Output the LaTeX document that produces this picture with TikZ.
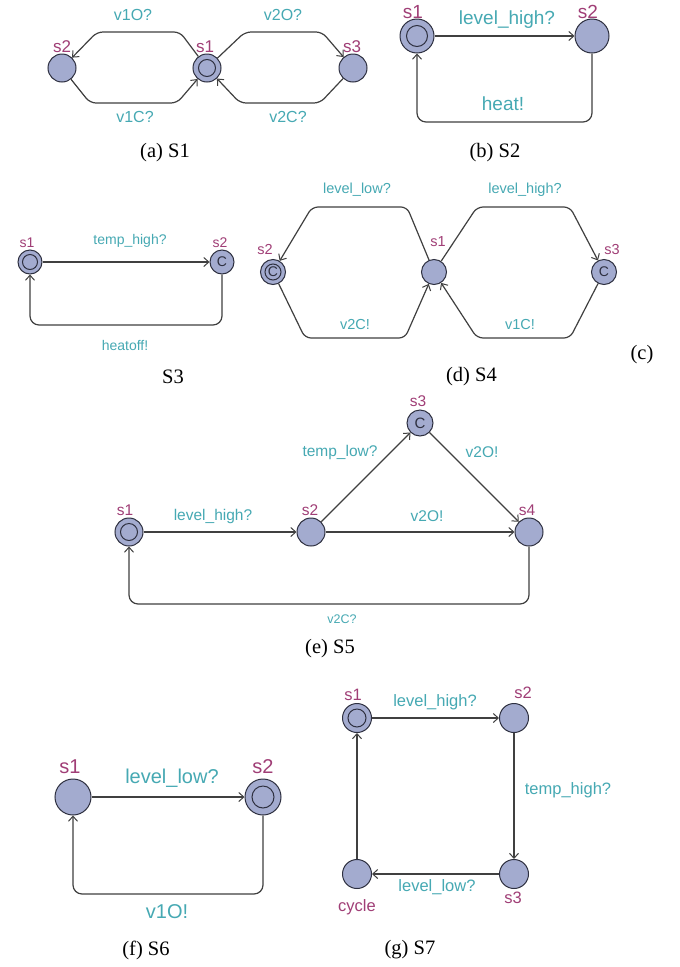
\documentclass[tikz,border=0pt]{standalone}
\usepackage{fontspec}
\setmainfont{Liberation Serif}
\newfontfamily\uisans{Liberation Sans}
\usetikzlibrary{arrows.meta}

\definecolor{locfill}{HTML}{A3ABCF}
\definecolor{locline}{HTML}{2E3040}
\definecolor{edgecol}{HTML}{404040}
\definecolor{namecol}{HTML}{A03E76}
\definecolor{synccol}{HTML}{46A9B3}

\tikzset{
  loc/.style={circle, draw=locline, fill=locfill, line width=1pt,
    minimum size=2*#1, inner sep=0pt},
  initloc/.style={path picture={\draw[locline, line width=1pt]
    (path picture bounding box.center) circle[radius=#1];}},
  committed/.style={text=locline, font=\uisans\fontsize{#1}{#1}\selectfont},
  edge/.style={draw=edgecol, line width=1.2pt, rounded corners=6pt,
    -{Straight Barb[length=5pt,width=9pt,line width=1pt]}},
  loopedge/.style={edge, rounded corners=9pt},
  lname/.style={text=namecol, inner sep=0pt, font=\uisans\fontsize{#1}{#1}\selectfont},
  lsync/.style={text=synccol, inner sep=0pt, font=\uisans\fontsize{#1}{#1}\selectfont},
  caption/.style={inner sep=0pt, font=\fontsize{20.5}{20.5}\selectfont},
}

\begin{document}
\begin{tikzpicture}[x=1pt, y=-1pt]
\useasboundingbox[fill=white] (0,0) rectangle (680,967);

% ---------- (a) S1 ----------
\node[loc=14] (a2) at (62,68) {};
\node[loc=14, initloc=8.5] (a1) at (207,68) {};
\node[loc=14] (a3) at (353,68) {};
\node[lname=17] (a2n) at (62,47) {s2};
\node[lname=17] (a1n) at (205,47) {s1};
\node[lname=17] (a3n) at (352,47) {s3};
\draw[edge] (a1) -- (180,32) -- (97,32) -- (a2);
\draw[edge] (a1) -- (245,32) -- (322,32) -- (a3);
\draw[edge] (a2) -- (90,103) -- (177,103) -- (a1);
\draw[edge] (a3) -- (320,103) -- (240,103) -- (a1);
\node[lsync=16] (a12) at (133,15) {v1O?};
\node[lsync=16] (a13) at (283,15) {v2O?};
\node[lsync=16] (a21) at (135,117) {v1C?};
\node[lsync=16] (a31) at (288,117) {v2C?};
\node[caption] (capa) at (165,153) {(a) S1};

% ---------- (b) S2 ----------
\node[loc=17, initloc=10.5] (b1) at (417,36) {};
\node[loc=17] (b2) at (592,36) {};
\node[lname=19] (b1n) at (413,12) {s1};
\node[lname=19] (b2n) at (588,12) {s2};
\draw[edge] (b1) -- (b2);
\draw[loopedge] (b2) -- (592,122) -- (417,122) -- (b1);
\node[lsync=19] (b12) at (507,20) {level\_high?};
\node[lsync=19] (b21) at (503,104) {heat!};
\node[caption] (capb) at (495,153) {(b) S2};

% ---------- S3 ----------
\node[loc=12, initloc=7.5] (c1) at (30,262) {};
\node[loc=12, committed=14] (c2) at (222,262) {C};
\node[lname=14] (c1n) at (27,243) {s1};
\node[lname=14] (c2n) at (220,243) {s2};
\draw[edge] (c1) -- (c2);
\draw[loopedge] (c2) -- (222,325) -- (30,325) -- (c1);
\node[lsync=14] (c12) at (130,241) {temp\_high?};
\node[lsync=14] (c21) at (125,345) {heatoff!};
\node[caption] (capc) at (173,377) {S3};

% ---------- (d) S4 ----------
\node[loc=12.5, initloc=8, committed=14] (d2) at (273,272) {C};
\node[loc=12.5] (d1) at (434,272) {};
\node[loc=12.5, committed=14] (d3) at (604,272) {C};
\node[lname=14.5] (d2n) at (265,250) {s2};
\node[lname=14.5] (d1n) at (438,242) {s1};
\node[lname=14.5] (d3n) at (612,250) {s3};
\draw[edge] (d1) -- (407,207) -- (312,207) -- (d2);
\draw[edge] (d1) -- (477,207) -- (570,207) -- (d3);
\draw[edge] (d2) -- (305,338) -- (405,338) -- (d1);
\draw[edge] (d3) -- (570,338) -- (477,338) -- (d1);
\node[lsync=14.5] (d12) at (357,190) {level\_low?};
\node[lsync=14.5] (d13) at (525,190) {level\_high?};
\node[lsync=14.5] (d21) at (355,325) {v2C!};
\node[lsync=14.5] (d31) at (520,325) {v1C!};
\node[caption] (capd) at (471.5,377) {(d) S4};
\node[caption] (capcc) at (642,355) {(c)};

% ---------- (e) S5 ----------
\node[loc=14, initloc=8.5] (e1) at (129,532) {};
\node[loc=14] (e2) at (311,532) {};
\node[loc=13, committed=15] (e3) at (420,423) {C};
\node[loc=14] (e4) at (529,532) {};
\node[lname=15.5] (e1n) at (125,510) {s1};
\node[lname=15.5] (e2n) at (310,510) {s2};
\node[lname=15.5] (e3n) at (418,401) {s3};
\node[lname=15.5] (e4n) at (527,510) {s4};
\draw[edge] (e1) -- (e2);
\draw[edge] (e2) -- (e3);
\draw[edge] (e3) -- (e4);
\draw[edge] (e2) -- (e4);
\draw[loopedge] (e4) -- (529,604) -- (129,604) -- (e1);
\node[lsync=15.5] (e12) at (213,516) {level\_high?};
\node[lsync=15.5] (e23) at (340,452) {temp\_low?};
\node[lsync=15.5] (e34) at (482,452) {v2O!};
\node[lsync=15.5] (e24) at (427,516) {v2O!};
\node[lsync=12.5] (e41) at (342,619) {v2C?};
\node[caption] (cape) at (330,649) {(e) S5};

% ---------- (f) S6 ----------
\node[loc=18] (f1) at (73,797) {};
\node[loc=18, initloc=11] (f2) at (263,797) {};
\node[lname=20] (f1n) at (70,767) {s1};
\node[lname=20] (f2n) at (263,767) {s2};
\draw[edge] (f1) -- (f2);
\draw[loopedge] (f2) -- (263,894) -- (73,894) -- (f1);
\node[lsync=20] (f12) at (172,778) {level\_low?};
\node[lsync=20] (f21) at (167,912) {v1O!};
\node[caption] (capf) at (146,950) {(f) S6};

% ---------- (g) S7 ----------
\node[loc=14.5, initloc=9] (g1) at (357,718) {};
\node[loc=14.5] (g2) at (514,718) {};
\node[loc=14.5] (g3) at (514,874) {};
\node[loc=14.5] (g4) at (357,874) {};
\node[lname=16.5] (g1n) at (353,695) {s1};
\node[lname=16.5] (g2n) at (523,693) {s2};
\node[lname=16.5] (g3n) at (513,898) {s3};
\node[lname=16.5] (g4n) at (357,907) {cycle};
\draw[edge] (g1) -- (g2);
\draw[edge] (g2) -- (g3);
\draw[edge] (g3) -- (g4);
\draw[edge] (g4) -- (g1);
\node[lsync=16.5] (g12) at (435,702) {level\_high?};
\node[lsync=16.5] (g23) at (568,790) {temp\_high?};
\node[lsync=16.5] (g34) at (437,887) {level\_low?};
\node[caption] (capg) at (410,950) {(g) S7};
\end{tikzpicture}
\end{document}
